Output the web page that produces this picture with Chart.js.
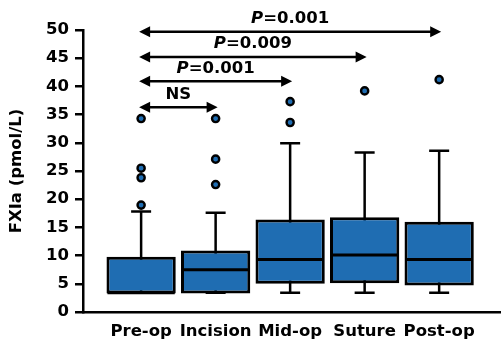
<!DOCTYPE html>
<html>
<head>
<meta charset="utf-8">
<script src="https://cdn.jsdelivr.net/npm/chart.js@4/dist/chart.umd.min.js"></script>
<style>
  html, body { margin: 0; padding: 0; background: #fff; }
  #wrap { width: 501px; height: 341px; position: relative; }
</style>
</head>
<body>
<div id="wrap"><canvas id="c"></canvas></div>
<script>
// ---- data ----
const categories = ['Pre-op', 'Incision', 'Mid-op', 'Suture', 'Post-op'];
const whiskerLow  = [3.4, 3.4, 3.4, 3.4, 3.4];
const q1          = [3.3, 3.3, 5.0, 5.1, 4.7];
const median      = [3.4, 7.5, 9.3, 10.1, 9.3];
const q3          = [9.8, 10.9, 16.4, 16.8, 16.0];
const whiskerHigh = [17.8, 17.6, 29.9, 28.3, 28.6];
const outliers    = [[18.95, 23.8, 25.5, 34.3], [22.6, 27.1, 34.3], [33.6, 37.3], [39.2], [41.2]];
const yTicks      = [0, 5, 10, 15, 20, 25, 30, 35, 40, 45, 50];
// comparisons: from Pre-op (index 0) to index bracketTo[i], at height bracketY[i]
const bracketTo     = [1, 2, 3, 4];
const bracketY      = [36.3, 40.9, 45.2, 49.7];
const bracketLabels = ['NS', 'P=0.001', 'P=0.009', 'P=0.001'];

const BLUE = '#1f6db2';
const FONT = 'DejaVu Sans';
const FS = 16.5;

const boxData = categories.map((_, i) => ({ x: i, y: [q1[i], q3[i]] }));
const outlierData = [];
outliers.forEach((arr, i) => arr.forEach(v => outlierData.push({ x: i, y: v })));

const boxExtras = {
  id: 'boxExtras',
  beforeDatasetsDraw(chart) {
    const { ctx, scales: { x, y } } = chart;
    const capHalf = 10;
    ctx.save();
    ctx.strokeStyle = '#000';
    ctx.lineWidth = 2.5;
    ctx.lineCap = 'butt';
    categories.forEach((_, i) => {
      const px = x.getPixelForValue(i);
      const yl = y.getPixelForValue(whiskerLow[i]);
      const yh = y.getPixelForValue(whiskerHigh[i]);
      ctx.beginPath();
      ctx.moveTo(px, yl); ctx.lineTo(px, yh);
      ctx.moveTo(px - capHalf, yh); ctx.lineTo(px + capHalf, yh);
      ctx.moveTo(px - capHalf, yl); ctx.lineTo(px + capHalf, yl);
      ctx.stroke();
    });
    ctx.restore();
  },
  afterDatasetsDraw(chart) {
    const { ctx, scales: { x, y } } = chart;
    const meta = chart.getDatasetMeta(0);
    ctx.save();
    ctx.strokeStyle = '#000';
    ctx.lineWidth = 3;
    categories.forEach((_, i) => {
      const bar = meta.data[i];
      const px = x.getPixelForValue(i);
      const hw = bar.width / 2;
      const py = y.getPixelForValue(median[i]);
      ctx.beginPath();
      ctx.moveTo(px - hw + 1, py); ctx.lineTo(px + hw - 1, py);
      ctx.stroke();
    });
    ctx.restore();
  },
  afterDraw(chart) {
    const { ctx, scales: { x, y } } = chart;
    const headLen = 11, headHalf = 5.5;
    ctx.save();
    ctx.strokeStyle = '#000';
    ctx.fillStyle = '#000';
    ctx.lineWidth = 2.5;
    bracketTo.forEach((to, k) => {
      const x0 = x.getPixelForValue(0) - 2;
      const x1 = x.getPixelForValue(to) + 2;
      const py = y.getPixelForValue(bracketY[k]);
      ctx.beginPath();
      ctx.moveTo(x0 + headLen - 1, py); ctx.lineTo(x1 - headLen + 1, py);
      ctx.stroke();
      ctx.beginPath();
      ctx.moveTo(x0, py); ctx.lineTo(x0 + headLen, py - headHalf); ctx.lineTo(x0 + headLen, py + headHalf); ctx.closePath();
      ctx.fill();
      ctx.beginPath();
      ctx.moveTo(x1, py); ctx.lineTo(x1 - headLen, py - headHalf); ctx.lineTo(x1 - headLen, py + headHalf); ctx.closePath();
      ctx.fill();
      // label
      const label = bracketLabels[k];
      const cx = (x0 + x1) / 2;
      const ty = py - 13;
      ctx.textBaseline = 'middle';
      ctx.textAlign = 'left';
      if (label.startsWith('P=')) {
        const italicFont = `italic bold ${FS}px "${FONT}"`;
        const boldFont = `bold ${FS}px "${FONT}"`;
        ctx.font = italicFont;
        const wP = ctx.measureText('P').width;
        ctx.font = boldFont;
        const rest = label.slice(1);
        const wR = ctx.measureText(rest).width;
        const start = cx - (wP + wR) / 2;
        ctx.font = italicFont;
        ctx.fillText('P', start, ty);
        ctx.font = boldFont;
        ctx.fillText(rest, start + wP, ty);
      } else {
        ctx.font = `bold ${FS}px "${FONT}"`;
        ctx.textAlign = 'center';
        ctx.fillText(label, cx, ty);
      }
    });
    ctx.restore();
  }
};

new Chart(document.getElementById('c'), {
  type: 'bar',
  data: {
    datasets: [
      {
        type: 'bar',
        data: boxData,
        backgroundColor: BLUE,
        borderColor: '#000',
        borderWidth: 3,
        borderSkipped: false,
        barPercentage: 0.93,
        categoryPercentage: 1,
        grouped: false,
        order: 2
      },
      {
        type: 'scatter',
        data: outlierData,
        pointRadius: 3.6,
        pointBackgroundColor: BLUE,
        pointBorderColor: '#000',
        pointBorderWidth: 2.4,
        order: 1
      }
    ]
  },
  options: {
    responsive: true,
    maintainAspectRatio: false,
    animation: false,
    events: [],
    layout: { autoPadding: false, padding: { top: 30, right: 0, left: 0, bottom: 0 } },
    plugins: { legend: { display: false }, tooltip: { enabled: false } },
    scales: {
      x: {
        type: 'linear',
        min: -0.78,
        max: 4.83,
        offset: false,
        afterBuildTicks(scale) { scale.ticks = categories.map((_, i) => ({ value: i })); },
        afterFit(scale) { scale.height = 29; scale.paddingLeft = 0; scale.paddingRight = 0; },
        grid: { drawOnChartArea: false, drawTicks: false },
        border: { display: true, color: '#000', width: 2.5 },
        ticks: {
          autoSkip: false,
          maxRotation: 0,
          padding: 10,
          color: '#000',
          font: { family: FONT, weight: 'bold', size: FS },
          callback: (v) => categories[v]
        }
      },
      y: {
        min: 0,
        max: 50,
        afterBuildTicks(scale) { scale.ticks = yTicks.map(v => ({ value: v })); },
        afterFit(scale) { scale.width = 83; scale.paddingTop = 0; scale.paddingBottom = 0; },
        grid: { drawOnChartArea: false, drawTicks: true, tickLength: 8, color: '#000', lineWidth: 2.5 },
        border: { display: true, color: '#000', width: 2.5 },
        ticks: {
          padding: 6,
          color: '#000',
          font: { family: FONT, weight: 'bold', size: FS }
        },
        title: {
          display: true,
          text: 'FXIa (pmol/L)',
          color: '#000',
          padding: { top: 7, bottom: 0 },
          font: { family: FONT, weight: 'bold', size: FS }
        }
      }
    }
  },
  plugins: [boxExtras]
});
</script>
</body>
</html>
